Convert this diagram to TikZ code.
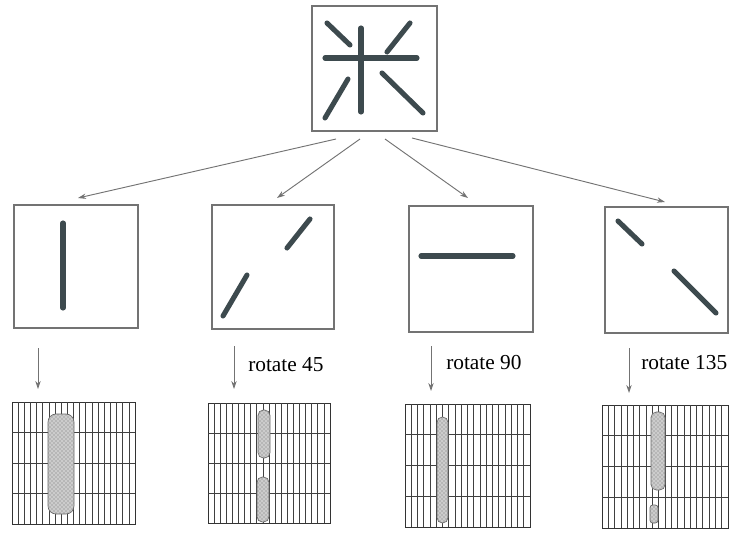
\documentclass[tikz,border=0pt]{standalone}
\usepackage{fontspec}
\setmainfont{Liberation Serif}
\usetikzlibrary{calc,fit,arrows.meta,patterns}
\definecolor{strokecol}{HTML}{3D4A4E}
\begin{document}
\begin{tikzpicture}[x=0.75pt,y=-0.75pt,
  frame/.style={draw=black!55, line width=0.8pt, inner sep=0pt, outer sep=0pt},
  stroke/.style={line width=3.8pt, draw=strokecol, line cap=round},
  conn/.style={draw=black!55, line width=0.7pt, -{Stealth[length=6pt,width=4pt]}},
  gridframe/.style={draw=black!80, line width=0.6pt, inner sep=0pt, outer sep=0pt},
  gridline/.style={draw=black!75, line width=0.5pt},
  blob/.style={preaction={fill=gray!40}, pattern=crosshatch dots, pattern color=black!55, draw=black!60, line width=0.5pt},
  lab/.style={font=\fontsize{16}{19}\selectfont, anchor=base west, inner sep=0pt}]
\useasboundingbox (0,0) rectangle (729,533);

% boxes
\node[frame, fit={(312,6) (437,131)}] (top) {};
\node[frame, fit={(14,205) (138,328)}] (b1) {};
\node[frame, fit={(212,205) (334,329)}] (b2) {};
\node[frame, fit={(409,206) (533,332)}] (b3) {};
\node[frame, fit={(605,207) (728,333)}] (b4) {};

% strokes in top box
\draw[stroke] (361,28) -- (361,112);
\draw[stroke] (325,58) -- (417,58);
\draw[stroke] (327,23) -- (350,45);
\draw[stroke] (410,23) -- (387,52);
\draw[stroke] (348,79) -- (325,118);
\draw[stroke] (382,73) -- (423,113);

% strokes in second row
\draw[stroke] (63,223) -- (63,308);
\draw[stroke] (310,219) -- (287,248);
\draw[stroke] (247,275) -- (223,316);
\draw[stroke] (421,256) -- (513,256);
\draw[stroke] (618,221) -- (642,244);
\draw[stroke] (674,271) -- (716,313);

% connectors from top
\coordinate (t1) at (336,139); \coordinate (e1) at (78,198);
\coordinate (t2) at (360,139); \coordinate (e2) at (277,198);
\coordinate (t3) at (385,139); \coordinate (e3) at (468,198);
\coordinate (t4) at (412,138); \coordinate (e4) at (665,202);
\foreach \i in {1,2,3,4} \draw[conn] (t\i) -- (e\i);

% grids
\node[gridframe, fit={(12,402) (135,524)}] (g1) {};
\node[gridframe, fit={(208,403) (330,523)}] (g2) {};
\node[gridframe, fit={(405,404) (530,527)}] (g3) {};
\node[gridframe, fit={(602,405) (728,528)}] (g4) {};
\foreach \g in {g1,g2,g3,g4}{
  \foreach \i in {1,...,19}
    \draw[gridline] ($(\g.north west)!\i/20!(\g.north east)$) -- ($(\g.south west)!\i/20!(\g.south east)$);
  \foreach \j in {1,2,3}
    \draw[gridline] ($(\g.north west)!\j/4!(\g.south west)$) -- ($(\g.north east)!\j/4!(\g.south east)$);
}

% blobs
\draw[blob, rounded corners=6pt] (48,414) rectangle (74,514);
\draw[blob, rounded corners=4pt] (258,410) rectangle (270,458);
\draw[blob, rounded corners=4pt] (257,477) rectangle (269,522);
\draw[blob, rounded corners=4pt] (437,417) rectangle (448,523);
\draw[blob, rounded corners=4pt] (651,412) rectangle (665,490);
\draw[blob, rounded corners=2pt] (650,505) rectangle (658,523);

% connectors to grids
\coordinate (d1) at (38,348); \coordinate (f1) at (38,389);
\coordinate (d2) at (234,346); \coordinate (f2) at (234,389);
\coordinate (d3) at (431,346); \coordinate (f3) at (431,391);
\coordinate (d4) at (629,348); \coordinate (f4) at (629,393);
\foreach \i in {1,2,3,4} \draw[conn] (d\i) -- (f\i);

% labels
\node[lab] (l2) at (248,371) {rotate 45};
\node[lab] (l3) at (446,369) {rotate 90};
\node[lab] (l4) at (641,369) {rotate 135};
\end{tikzpicture}
\end{document}
